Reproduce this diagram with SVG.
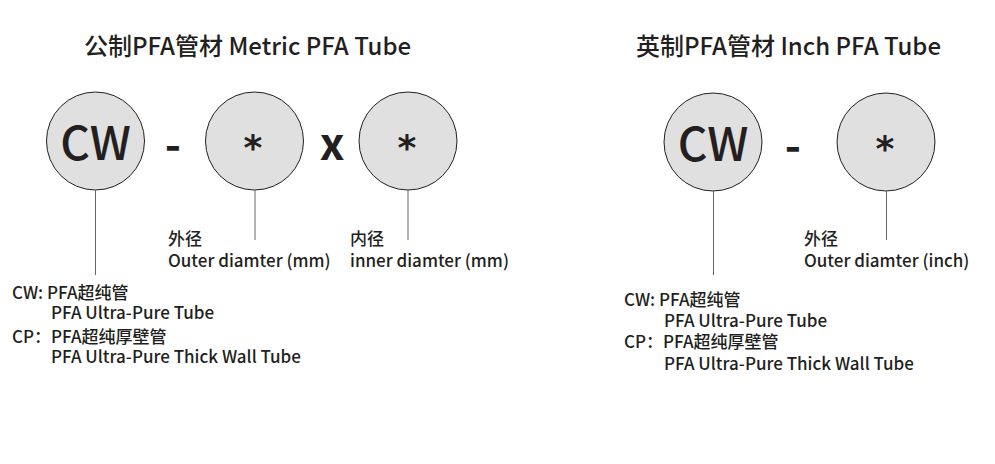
<svg xmlns="http://www.w3.org/2000/svg" width="995" height="464" viewBox="0 0 995 464">
<style>
.t{font-family:"Noto Sans CJK SC","Noto Sans",sans-serif;fill:#231f20;font-weight:500}
.title{font-size:24px}
.lbl{font-size:17px}
.big{font-size:46px;text-anchor:middle}
.op{font-size:44px;font-weight:700;text-anchor:middle}
.ast{font-family:"DejaVu Sans",sans-serif;font-size:36px;font-weight:700;fill:#231f20;text-anchor:middle}
.c{fill:#e0e0e0;stroke:#231f20;stroke-width:1}
.ln{stroke:#666;stroke-width:1;fill:none}
</style>
<rect width="995" height="464" fill="#fff"/>
<g id="metric">
<text class="t title" x="84" y="55">公制PFA管材 Metric PFA Tube</text>
<g id="m-cw"><circle class="c" cx="95.5" cy="141" r="49"/><text class="t big" x="95.5" y="160">CW</text></g>
<text class="t op" x="173" y="161">-</text>
<g id="m-od"><circle class="c" cx="254.5" cy="141" r="49"/><text class="ast" x="253" y="160">*</text></g>
<text class="t op" x="332" y="160">x</text>
<g id="m-id"><circle class="c" cx="408" cy="141" r="49"/><text class="ast" x="407" y="160">*</text></g>
<g id="m-od-lbl"><text class="t lbl" x="168" y="245">外径</text><text class="t lbl" x="168" y="267">Outer diamter (mm)</text></g>
<g id="m-id-lbl"><text class="t lbl" x="350" y="245">内径</text><text class="t lbl" x="350" y="267">inner diamter (mm)</text></g>
<g id="m-cw-lbl">
<text class="t lbl" x="12" y="299">CW: PFA超纯管</text>
<text class="t lbl" x="51" y="319">PFA Ultra-Pure Tube</text>
<text class="t lbl" x="12" y="343">CP：PFA超纯厚壁管</text>
<text class="t lbl" x="51" y="363">PFA Ultra-Pure Thick Wall Tube</text>
</g>
</g>
<g id="inch">
<text class="t title" x="636" y="55">英制PFA管材 Inch PFA Tube</text>
<g id="i-cw"><circle class="c" cx="713" cy="142" r="49"/><text class="t big" x="713" y="161">CW</text></g>
<text class="t op" x="793" y="162">-</text>
<g id="i-od"><circle class="c" cx="886" cy="142" r="49"/><text class="ast" x="885" y="161">*</text></g>
<g id="i-od-lbl"><text class="t lbl" x="804" y="245">外径</text><text class="t lbl" x="804" y="267">Outer diamter (inch)</text></g>
<g id="i-cw-lbl">
<text class="t lbl" x="624" y="306">CW: PFA超纯管</text>
<text class="t lbl" x="664" y="327">PFA Ultra-Pure Tube</text>
<text class="t lbl" x="624" y="348">CP：PFA超纯厚壁管</text>
<text class="t lbl" x="664" y="370">PFA Ultra-Pure Thick Wall Tube</text>
</g>
</g>
<g id="connectors">
<line class="ln" x1="95.5" y1="190" x2="95.5" y2="275"/>
<line class="ln" x1="255" y1="190" x2="255" y2="240"/>
<line class="ln" x1="408" y1="190" x2="408" y2="240"/>
<line class="ln" x1="713.5" y1="191" x2="713.5" y2="275"/>
<line class="ln" x1="886.5" y1="191" x2="886.5" y2="240"/>
</g>
</svg>
